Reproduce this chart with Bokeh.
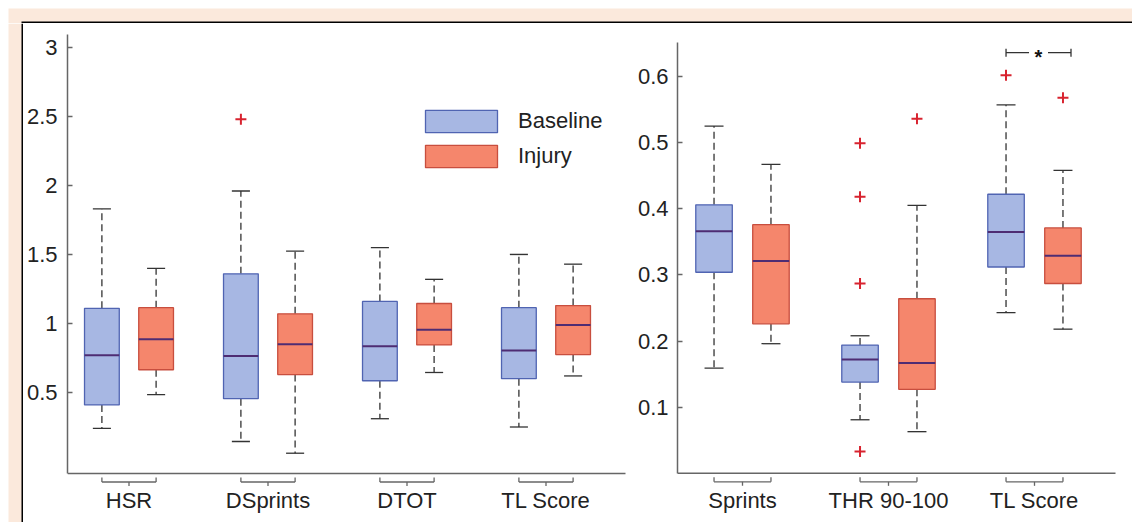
from bokeh.plotting import figure
from bokeh.layouts import row, column
from bokeh.models import FixedTicker, Range1d, NumeralTickFormatter, BasicTickFormatter
from bokeh.core.properties import value
from bokeh.embed import file_html
from bokeh.resources import INLINE

# ---------------- data ----------------
L_CATS = ["HSR", "DSprints", "DTOT", "TL Score"]
L_BASE_UPPER = [1.83, 1.96, 1.55, 1.50]
L_BASE_Q3 = [1.11, 1.36, 1.16, 1.115]
L_BASE_MED = [0.77, 0.765, 0.835, 0.805]
L_BASE_Q1 = [0.41, 0.455, 0.585, 0.60]
L_BASE_LOWER = [0.24, 0.145, 0.31, 0.25]
L_BASE_OUT_CAT = ["DSprints"]
L_BASE_OUT_VAL = [2.48]

L_INJ_UPPER = [1.40, 1.525, 1.32, 1.43]
L_INJ_Q3 = [1.115, 1.07, 1.145, 1.13]
L_INJ_MED = [0.885, 0.85, 0.955, 0.99]
L_INJ_Q1 = [0.665, 0.63, 0.845, 0.775]
L_INJ_LOWER = [0.485, 0.06, 0.645, 0.62]
L_INJ_OUT_CAT = []
L_INJ_OUT_VAL = []

R_CATS = ["Sprints", "THR 90-100", "TL Score"]
R_BASE_UPPER = [0.525, 0.208, 0.557]
R_BASE_Q3 = [0.406, 0.194, 0.422]
R_BASE_MED = [0.366, 0.172, 0.365]
R_BASE_Q1 = [0.304, 0.138, 0.312]
R_BASE_LOWER = [0.159, 0.081, 0.243]
R_BASE_OUT_CAT = ["THR 90-100", "THR 90-100", "THR 90-100", "THR 90-100", "TL Score"]
R_BASE_OUT_VAL = [0.499, 0.418, 0.287, 0.033, 0.602]

R_INJ_UPPER = [0.467, 0.405, 0.458]
R_INJ_Q3 = [0.376, 0.264, 0.371]
R_INJ_MED = [0.321, 0.167, 0.329]
R_INJ_Q1 = [0.226, 0.127, 0.287]
R_INJ_LOWER = [0.196, 0.063, 0.218]
R_INJ_OUT_CAT = ["THR 90-100", "TL Score"]
R_INJ_OUT_VAL = [0.536, 0.568]

L_YTICKS = [0.5, 1, 1.5, 2, 2.5, 3]
R_YTICKS = [0.1, 0.2, 0.3, 0.4, 0.5, 0.6]

SERIES = ["Baseline", "Injury"]
SIG_CAT = "TL Score"
SIG_TEXT = "*"
SIG_LEVEL = 0.636

# ---------------- style ----------------
PEACH = "#fbe9dc"
BLACK = "#000000"
WHITE = "#ffffff"
BLUE_FILL = "#a7b7e3"
BLUE_LINE = "#5064b2"
RED_FILL = "#f5866c"
RED_LINE = "#c84e3e"
MEDIAN = "#4e2c73"
OUT = "#d8232f"
WHISK = "#333333"
AXIS = "#666666"
TEXT = "#222222"
FONT = "Liberation Sans"
FSIZE = "22px"

OFF = 0.195
BOX_W = 0.25
CAP_W = 0.13

W_TOT = 1132
H_TOT = 522
MARGIN = 8      # white page margin seen in the reference
PEACH_W = 13    # peach band
EDGE_W = 2      # black frame line
INSET = MARGIN + PEACH_W + EDGE_W   # 23
PANEL_H = H_TOT - INSET             # 499
P1_W = 607
P2_W = W_TOT - INSET - P1_W         # 502


def strip(w, h):
    f = figure(width=w, height=h, toolbar_location=None, output_backend="svg",
               min_border=0, x_range=Range1d(0, w), y_range=Range1d(0, h),
               x_axis_location=None, y_axis_location=None)
    f.grid.visible = False
    f.outline_line_color = None
    f.background_fill_color = WHITE
    f.border_fill_color = WHITE
    return f


# top strip: white margin, peach band, black line
top = strip(W_TOT, INSET)
top.quad(left=[MARGIN], right=[W_TOT], bottom=[0], top=[INSET - MARGIN],
         fill_color=PEACH, line_color=None)
top.quad(left=[MARGIN + PEACH_W], right=[W_TOT], bottom=[0], top=[EDGE_W],
         fill_color=BLACK, line_color=None)

# left strip
left = strip(INSET, PANEL_H)
left.quad(left=[MARGIN], right=[INSET], bottom=[0], top=[PANEL_H],
          fill_color=PEACH, line_color=None)
left.quad(left=[MARGIN + PEACH_W], right=[INSET], bottom=[0], top=[PANEL_H],
          fill_color=BLACK, line_color=None)


def make_panel(width, mb_left, x_lo, x_hi, y_lo, y_hi, axis_x_hi, axis_y, axis_top,
               cats, base, inj, base_out, inj_out, yticks, yfmt, std_left,
               legend_loc=None, sig=False):
    p = figure(width=width, height=PANEL_H, x_range=Range1d(x_lo, x_hi),
               y_range=Range1d(y_lo, y_hi), toolbar_location=None,
               output_backend="svg", min_border_left=mb_left, min_border_right=0,
               min_border_top=0, min_border_bottom=0, x_axis_location=None)
    p.grid.visible = False
    p.outline_line_color = None
    ky = PANEL_H / (y_hi - y_lo)

    pos = [i + 1 for i in range(len(cats))]
    idx = {c: i + 1 for i, c in enumerate(cats)}

    # horizontal axis line
    p.segment(x0=[x_lo], y0=[axis_y], x1=[axis_x_hi], y1=[axis_y],
              line_color=AXIS, line_width=1.5)
    # group brackets under the axis
    yb = axis_y - 8.5 / ky
    ye = axis_y - 4 / ky
    ym = axis_y - 12.5 / ky
    n = len(pos)
    p.segment(x0=[g - OFF for g in pos], y0=[yb] * n,
              x1=[g + OFF for g in pos], y1=[yb] * n, line_color=AXIS, line_width=1.3)
    ends = [g - OFF for g in pos] + [g + OFF for g in pos]
    p.segment(x0=ends, y0=[yb] * (2 * n), x1=ends, y1=[ye] * (2 * n),
              line_color=AXIS, line_width=1.3)
    p.segment(x0=pos, y0=[yb] * n, x1=pos, y1=[ym] * n, line_color=AXIS, line_width=1.3)
    # category labels
    p.text(x=pos, y=[axis_y - 27 / ky] * n, text=cats, text_align="center",
           text_baseline="alphabetic", text_font=value(FONT), text_font_size=FSIZE,
           text_color=TEXT)

    for k, (stats, outs, sgn, fill, line) in enumerate([
            (base, base_out, -1, BLUE_FILL, BLUE_LINE),
            (inj, inj_out, 1, RED_FILL, RED_LINE)]):
        upper, q3, med, q1, lower = stats
        xs = [g + sgn * OFF for g in pos]
        p.segment(x0=xs, y0=q3, x1=xs, y1=upper, line_color=WHISK, line_width=1.3,
                  line_dash="7 4")
        p.segment(x0=xs, y0=q1, x1=xs, y1=lower, line_color=WHISK, line_width=1.3,
                  line_dash="7 4")
        p.segment(x0=[x - CAP_W / 2 for x in xs], y0=upper, x1=[x + CAP_W / 2 for x in xs],
                  y1=upper, line_color=WHISK, line_width=1.3)
        p.segment(x0=[x - CAP_W / 2 for x in xs], y0=lower, x1=[x + CAP_W / 2 for x in xs],
                  y1=lower, line_color=WHISK, line_width=1.3)
        if legend_loc is not None:
            p.vbar(x=xs, top=q3, bottom=q1, width=BOX_W, fill_color=fill,
                   line_color=line, line_width=1.3, legend_label=SERIES[k])
        else:
            p.vbar(x=xs, top=q3, bottom=q1, width=BOX_W, fill_color=fill,
                   line_color=line, line_width=1.3)
        p.segment(x0=[x - BOX_W / 2 for x in xs], y0=med, x1=[x + BOX_W / 2 for x in xs],
                  y1=med, line_color=MEDIAN, line_width=2)
        ocat, oval = outs
        if ocat:
            p.scatter(x=[idx[c] + sgn * OFF for c in ocat], y=oval, marker="cross",
                      size=11, line_color=OUT, line_width=2)

    if sig:
        g = idx[SIG_CAT]
        xa = g - OFF
        xbr = g + 0.25
        xc = (xa + xbr) / 2
        gap = 0.065
        tk = 4 / ky
        p.segment(x0=[xa, xc + gap], y0=[SIG_LEVEL] * 2, x1=[xc - gap, xbr],
                  y1=[SIG_LEVEL] * 2, line_color=WHISK, line_width=1.3)
        p.segment(x0=[xa, xbr], y0=[SIG_LEVEL - tk] * 2, x1=[xa, xbr],
                  y1=[SIG_LEVEL + tk] * 2, line_color=WHISK, line_width=1.3)
        p.text(x=[xc], y=[SIG_LEVEL - 4.5 / ky], text=[SIG_TEXT], text_align="center",
               text_baseline="middle", text_font=value(FONT), text_font_size="20px",
               text_font_style="bold", text_color="#111111")

    ya = p.yaxis[0]
    ya.ticker = FixedTicker(ticks=yticks, minor_ticks=[])
    ya.formatter = yfmt
    ya.bounds = (axis_y, axis_top)
    ya.axis_line_color = AXIS
    ya.axis_line_width = 1.5
    ya.major_tick_in = 5
    ya.major_tick_out = 0
    ya.major_tick_line_color = AXIS
    ya.major_tick_line_width = 1.3
    ya.minor_tick_line_color = None
    ya.major_label_standoff = std_left
    ya.major_label_text_font = FONT
    ya.major_label_text_font_size = FSIZE
    ya.major_label_text_color = TEXT

    if legend_loc is not None:
        lg = p.legend[0]
        lg.location = legend_loc
        lg.glyph_width = 90
        lg.glyph_height = 28
        lg.label_standoff = 12
        lg.spacing = 7
        lg.padding = 0
        lg.margin = 0
        lg.border_line_color = None
        lg.background_fill_alpha = 0
        lg.label_text_font = FONT
        lg.label_text_font_size = FSIZE
        lg.label_text_color = TEXT
    return p


# left panel geometry (page px): frame x 67..630, y 23..522; axis corner at (67, 473)
L_KX = 139.0
L_X_LO = 1 - (128.5 - 67) / L_KX
L_X_HI = L_X_LO + (P1_W - 44) / L_KX
L_AX_HI = 1 + (625 - 128.5) / L_KX
L_KY = 138.0
L_Y_HI = 3 + (47 - INSET) / L_KY
L_Y_LO = L_Y_HI - PANEL_H / L_KY
L_AXIS_Y = 3 - (473 - 47) / L_KY
L_AXIS_TOP = 3 + (47 - 34) / L_KY

# right panel geometry: frame x 677..1132, y 23..522; axis corner at (677, 473)
R_KX = 146.0
R_X_LO = 1 - (742 - 677) / R_KX
R_X_HI = R_X_LO + (P2_W - 47) / R_KX
R_AX_HI = 1 + (1115 - 742) / R_KX
R_KY = 661.4
R_Y_HI = 0.6 + (76 - INSET) / R_KY
R_Y_LO = R_Y_HI - PANEL_H / R_KY
R_AXIS_Y = 0.0
R_AXIS_TOP = 0.6 + (76 - 42) / R_KY

p1 = make_panel(P1_W, 44, L_X_LO, L_X_HI, L_Y_LO, L_Y_HI, L_AX_HI, L_AXIS_Y, L_AXIS_TOP,
                L_CATS,
                (L_BASE_UPPER, L_BASE_Q3, L_BASE_MED, L_BASE_Q1, L_BASE_LOWER),
                (L_INJ_UPPER, L_INJ_Q3, L_INJ_MED, L_INJ_Q1, L_INJ_LOWER),
                (L_BASE_OUT_CAT, L_BASE_OUT_VAL), (L_INJ_OUT_CAT, L_INJ_OUT_VAL),
                L_YTICKS, NumeralTickFormatter(format="0.[0]"), 10,
                legend_loc=(349, 352))

p2 = make_panel(P2_W, 47, R_X_LO, R_X_HI, R_Y_LO, R_Y_HI, R_AX_HI, R_AXIS_Y, R_AXIS_TOP,
                R_CATS,
                (R_BASE_UPPER, R_BASE_Q3, R_BASE_MED, R_BASE_Q1, R_BASE_LOWER),
                (R_INJ_UPPER, R_INJ_Q3, R_INJ_MED, R_INJ_Q1, R_INJ_LOWER),
                (R_BASE_OUT_CAT, R_BASE_OUT_VAL), (R_INJ_OUT_CAT, R_INJ_OUT_VAL),
                R_YTICKS, BasicTickFormatter(), 9, sig=True)

layout = column(top, row(left, p1, p2))

open("out.html", "w").write(file_html(layout, INLINE))
